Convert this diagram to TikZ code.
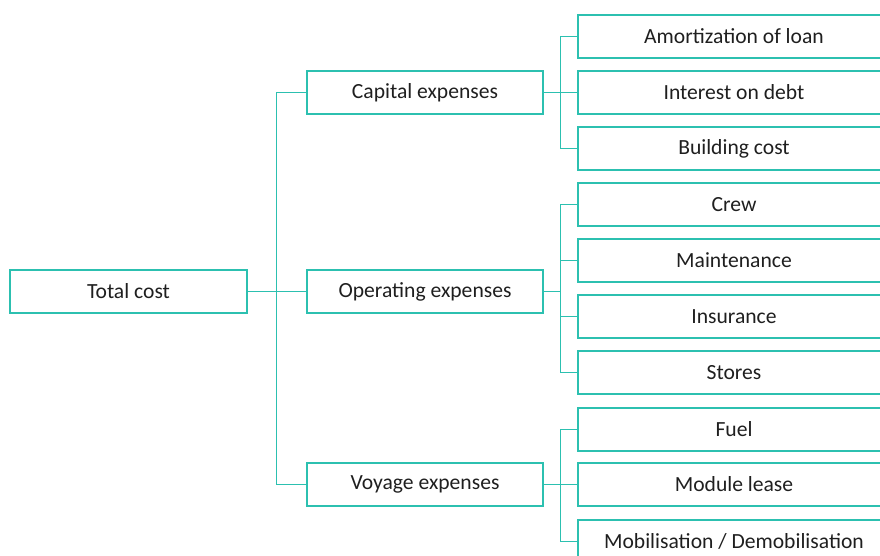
\documentclass[tikz,border=0pt]{standalone}
\usepackage{fontspec}
\setmainfont{Carlito}
\usetikzlibrary{calc}
\definecolor{teal1}{RGB}{44,192,176}
\begin{document}
\begin{tikzpicture}[x=1pt,y=-1pt,
  box/.style={draw=teal1,line width=1.8pt,minimum height=43pt,inner sep=0pt,font=\fontsize{21.6}{24}\selectfont,text=black!88},
  midbox/.style={box,minimum width=236pt},
  leafbox/.style={box,minimum width=312pt},
  conn/.style={draw=teal1,line width=0.9pt},
  connthick/.style={draw=teal1,line width=1.8pt}]
\useasboundingbox (0,0) rectangle (880,555);
\clip (0,0) rectangle (880,555);
\node[box,minimum width=237pt] (tot) at (128.5,291.5) {Total cost};
\node[midbox] (cap) at (425,92.5) {Capital expenses};
\node[midbox] (ope) at (425,291.5) {Operating expenses};
\node[midbox] (voy) at (425,484.5) {Voyage expenses};
\node[leafbox] (l1) at (734,36.5) {Amortization of loan};
\node[leafbox] (l2) at (734,92.5) {Interest on debt};
\node[leafbox] (l3) at (734,148.5) {Building cost};
\node[leafbox] (l4) at (734,204.5) {Crew};
\node[leafbox] (l5) at (734,260.5) {Maintenance};
\node[leafbox] (l6) at (734,316.5) {Insurance};
\node[leafbox] (l7) at (734,372.5) {Stores};
\node[leafbox] (l8) at (734,429.5) {Fuel};
\node[leafbox] (l9) at (734,484.5) {Module lease};
\node[leafbox] (l10) at (734,541.5) {Mobilisation / Demobilisation};
% trunk
\coordinate (tj) at (276,291.5);
\draw[connthick] (tot.east) -- (tj);
\draw[conn] (tj) |- (cap.west);
\draw[conn] (tj) |- (voy.west);
\draw[conn] (tj) -- (ope.west);
% branches
\foreach \p/\kids in {cap/{l1,l2,l3},ope/{l4,l5,l6,l7},voy/{l8,l9,l10}}{
  \coordinate (j) at ($(\p.east)+(17,0)$);
  \draw[conn,line width=1.3pt] (\p.east) -- (j);
  \foreach \k in \kids { \draw[conn] (j) |- (\k.west); }
}
\end{tikzpicture}
\end{document}
